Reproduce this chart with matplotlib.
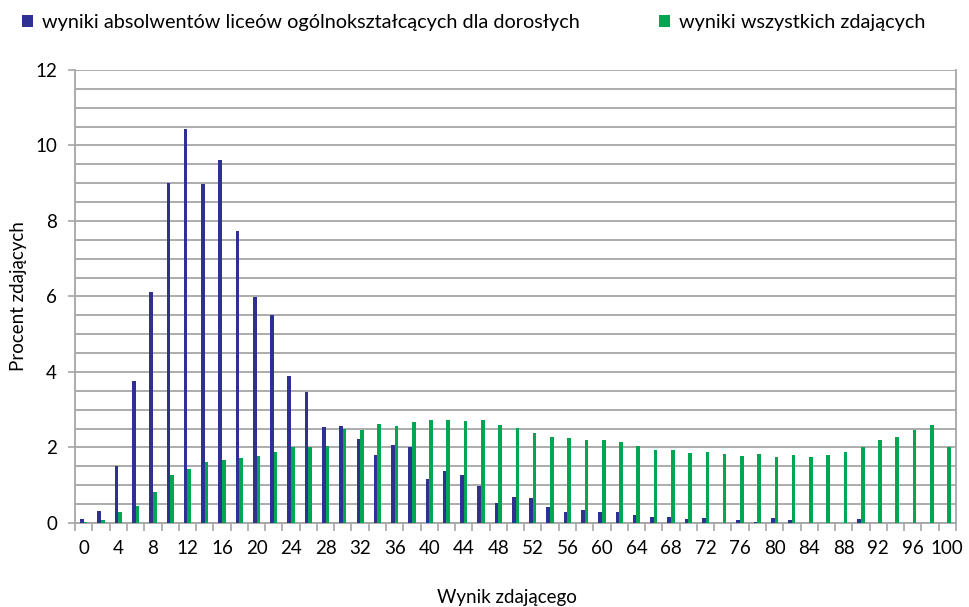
import numpy as np
import matplotlib
matplotlib.use("Agg")
import matplotlib.pyplot as plt
from matplotlib.ticker import MultipleLocator, FixedLocator

plt.rcParams['font.family'] = ['Lato', 'DejaVu Sans']

scores = list(range(0, 101, 2))
liceum = [0.1, 0.33, 1.51, 3.76, 6.11, 9.0, 10.45, 8.98, 9.62, 7.73,
          5.99, 5.5, 3.9, 3.48, 2.54, 2.57, 2.22, 1.8, 2.06, 2.0,
          1.16, 1.39, 1.26, 0.97, 0.52, 0.68, 0.65, 0.42, 0.29, 0.35,
          0.3, 0.28, 0.2, 0.17, 0.17, 0.1, 0.14, 0.0, 0.08, 0.02,
          0.12, 0.08, 0.0, 0.0, 0.01, 0.1, 0.0, 0.0, 0.01, 0.01, 0.0]
wszyscy = [0.03, 0.08, 0.28, 0.45, 0.82, 1.28, 1.43, 1.61, 1.66, 1.73,
           1.77, 1.88, 2.0, 2.0, 2.04, 2.49, 2.46, 2.61, 2.58, 2.68,
           2.73, 2.73, 2.69, 2.72, 2.59, 2.51, 2.38, 2.28, 2.25, 2.2,
           2.19, 2.15, 2.03, 1.93, 1.93, 1.85, 1.88, 1.83, 1.78, 1.84,
           1.74, 1.79, 1.74, 1.8, 1.89, 2.0, 2.19, 2.28, 2.46, 2.6, 2.0]
series_names = ["wyniki absolwentów liceów ogólnokształcących dla dorosłych",
                "wyniki wszystkich zdających"]

blue = '#2e3192'
green = '#00a651'
grey = '#a6a6a6'

fig = plt.figure(figsize=(9.7, 6.07), dpi=100)
ax = fig.add_axes([0.0775, 0.1384, 0.908, 0.7463])

x = np.arange(len(scores))
w = 0.21
ax.bar(x - w / 2, liceum, width=w, color=blue, label=series_names[0], zorder=3)
ax.bar(x + w / 2, wszyscy, width=w, color=green, label=series_names[1], zorder=3)

ax.set_xlim(-0.5, len(scores) - 0.5)
ax.set_ylim(0, 12)

# y axis: labels every 2, gridlines every 0.5
ax.yaxis.set_major_locator(MultipleLocator(2))
ax.yaxis.set_minor_locator(MultipleLocator(0.5))
ax.grid(which='both', axis='y', color=grey, linewidth=1.3, zorder=0)
ax.set_axisbelow(True)
ax.tick_params(axis='y', which='major', length=5, color=grey, width=1.2, pad=8, labelsize=13.5)
ax.tick_params(axis='y', which='minor', length=0)

# x axis: labels every 4 points, tick marks between categories
ax.xaxis.set_major_locator(FixedLocator(x[::2]))
ax.set_xticklabels([str(s) for s in scores[::2]])
ax.xaxis.set_minor_locator(FixedLocator(np.arange(-0.5, len(scores), 1.0)))
ax.tick_params(axis='x', which='major', length=0, pad=12, labelsize=13.5)
ax.tick_params(axis='x', which='minor', length=6, color=grey, width=1.2)

for side in ['left', 'bottom', 'right']:
    ax.spines[side].set_color(grey)
    ax.spines[side].set_linewidth(1.3)
ax.spines['top'].set_visible(False)

ax.set_ylabel("Procent zdających", fontsize=13.5, labelpad=6)
ax.set_xlabel("Wynik zdającego", fontsize=13.5)
ax.xaxis.set_label_coords(0.49, -0.146)

fig.legend(loc='center', bbox_to_anchor=(0.488, 0.963), ncol=2, frameon=False,
           fontsize=14.3, handlelength=0.55, handleheight=0.55, handletextpad=0.45,
           columnspacing=4.0)

fig.savefig("out.png", dpi=100)
